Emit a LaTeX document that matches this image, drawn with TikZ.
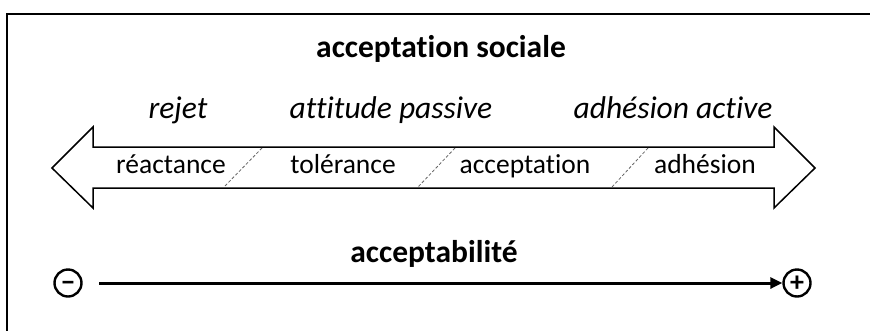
\documentclass[tikz,border=0pt]{standalone}
\usepackage{fontspec}
\setmainfont{Carlito}[Ligatures=NoCommon]
\usetikzlibrary{arrows.meta}
\begin{document}
\begin{tikzpicture}[x=1pt,y=-1pt,
  lab/.style={font=\fontsize{27.5}{32}\selectfont, inner sep=0pt, anchor=base},
  itl/.style={font=\fontsize{31.5}{36}\selectfont\itshape, inner sep=0pt, anchor=base},
  ttl/.style={font=\fontsize{31.5}{36}\selectfont\bfseries, inner sep=0pt, anchor=base},
  sep/.style={densely dashed, draw=black!60, line width=0.8pt},
  sign/.style={circle, draw, line width=2.4pt, minimum size=27pt, inner sep=0pt, font=\fontsize{28}{28}\selectfont\bfseries}]
\useasboundingbox (0,0) rectangle (870,330);
\draw[line width=2.6pt] (7,345) -- (7,14) -- (885,14);
\node[ttl] (title) at (441,57) {acceptation sociale};
\draw[line width=1.5pt, fill=white, line join=miter]
  (52,168) -- (93,127) -- (93,147) -- (774,147) -- (774,127) -- (815,168)
  -- (774,208) -- (774,188) -- (93,188) -- (93,208) -- cycle;
\draw[sep] (262,148) -- (224,187);
\draw[sep] (455,148) -- (418,187);
\draw[sep] (648,148) -- (612,187);
\node[itl] (rej) at (178,118) {rejet};
\node[itl] (pas) at (391,118) {attitude passive};
\node[itl] (act) at (673,118) {adhésion active};
\node[lab] (rea) at (171,173) {réactance};
\node[lab] (tol) at (343,173) {tolérance};
\node[lab] (acc) at (525,173) {acceptation};
\node[lab] (adh) at (705,173) {adhésion};
\node[ttl] (able) at (434,262) {acceptabilité};
\node[sign] (minus) at (68,283) {\raisebox{-8pt}[0pt][0pt]{−}};
\node[sign] (plus) at (797,283) {\raisebox{-8pt}[0pt][0pt]{+}};
\draw[line width=3pt, -{Triangle[length=12pt,width=11pt]}] (99,283) -- (plus.west);
\end{tikzpicture}
\end{document}
